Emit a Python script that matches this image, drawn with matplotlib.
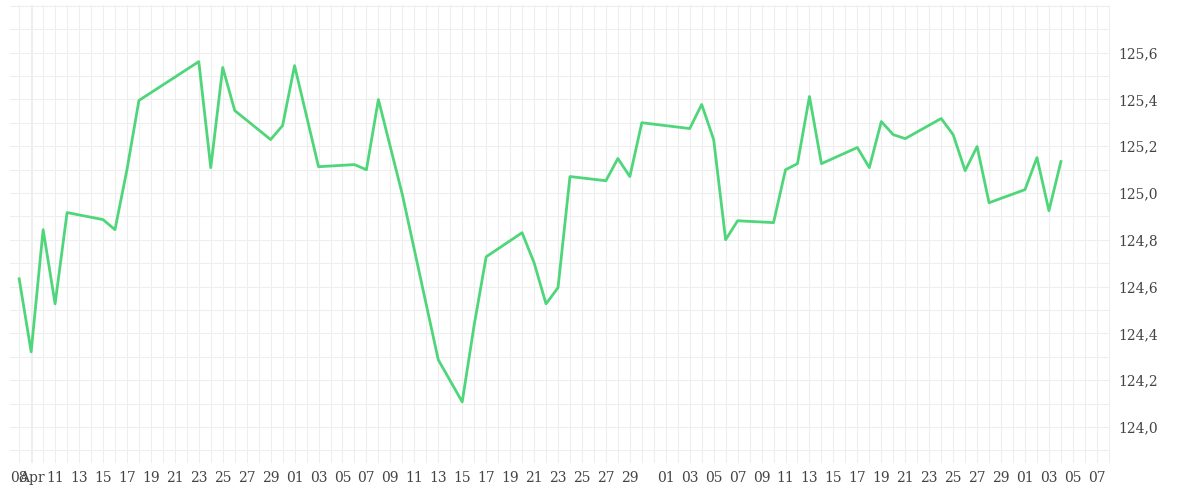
import matplotlib
matplotlib.use("Agg")
import matplotlib.pyplot as plt
import matplotlib.dates as mdates
import numpy as np
import datetime as dt

days = [0,1,2,3,4,7,8,9,10,15,16,17,18,21,22,23,25,28,29,30,32,35,37,38,39,42,43,44,45,46,
        49,50,51,52,56,57,58,59,60,63,64,65,66,67,70,71,72,73,74,77,78,79,80,81,84,85,86,87]
values = [124.633,124.321,124.843,124.526,124.916,124.886,124.843,125.099,125.395,125.561,
          125.108,125.536,125.352,125.228,125.288,125.544,125.112,125.121,125.099,125.399,
          124.993,124.287,124.107,124.436,124.727,124.830,124.702,124.526,124.595,125.070,
          125.052,125.147,125.070,125.300,125.275,125.378,125.228,124.800,124.881,124.873,
          125.099,125.125,125.412,125.125,125.194,125.108,125.305,125.249,125.232,125.318,
          125.249,125.095,125.198,124.958,125.014,125.151,124.924,125.134]
start = dt.date(2024,4,8)
dates = [start + dt.timedelta(days=d) for d in days]

fig = plt.figure(figsize=(12,5), dpi=100)
ax = fig.add_axes([0.008, 0.075, 0.917, 0.915])
ax.plot(dates, values, color="#4fd67a", lw=2)

x0 = mdates.date2num(start) - 0.8
x1 = mdates.date2num(dt.date(2024,7,8)) + 0.1
ax.set_xlim(x0, x1)
ax.set_ylim(123.848, 125.803)

ticks, labels = [], []
d = start
while d <= dt.date(2024,7,7):
    if d == start:
        ticks.append(mdates.date2num(d)); labels.append("08")
    elif d == dt.date(2024,4,9):
        ticks.append(mdates.date2num(d) + 0.1); labels.append("Apr")
    elif d.day % 2 == 1 and d.day != 31:
        ticks.append(mdates.date2num(d)); labels.append(f"{d.day:02d}")
    d += dt.timedelta(days=1)
ax.set_xticks(ticks)
ax.set_xticklabels(labels, fontsize=10, color="#444", family="DejaVu Serif")
ax.xaxis.set_minor_locator(mdates.DayLocator())
ax.yaxis.tick_right()
yt = np.arange(124.0, 125.61, 0.2)
ax.set_yticks(yt)
ax.set_yticklabels([f"{v:.1f}".replace(".", ",") for v in yt], fontsize=10, color="#444", family="DejaVu Serif")
ax.set_yticks(np.arange(123.9, 125.81, 0.1), minor=True)
ax.grid(which="both", color="#eeeeee", lw=0.8)
ax.tick_params(which="both", length=0, pad=6)
for s in ax.spines.values():
    s.set_visible(False)
fig.savefig("out.png")
